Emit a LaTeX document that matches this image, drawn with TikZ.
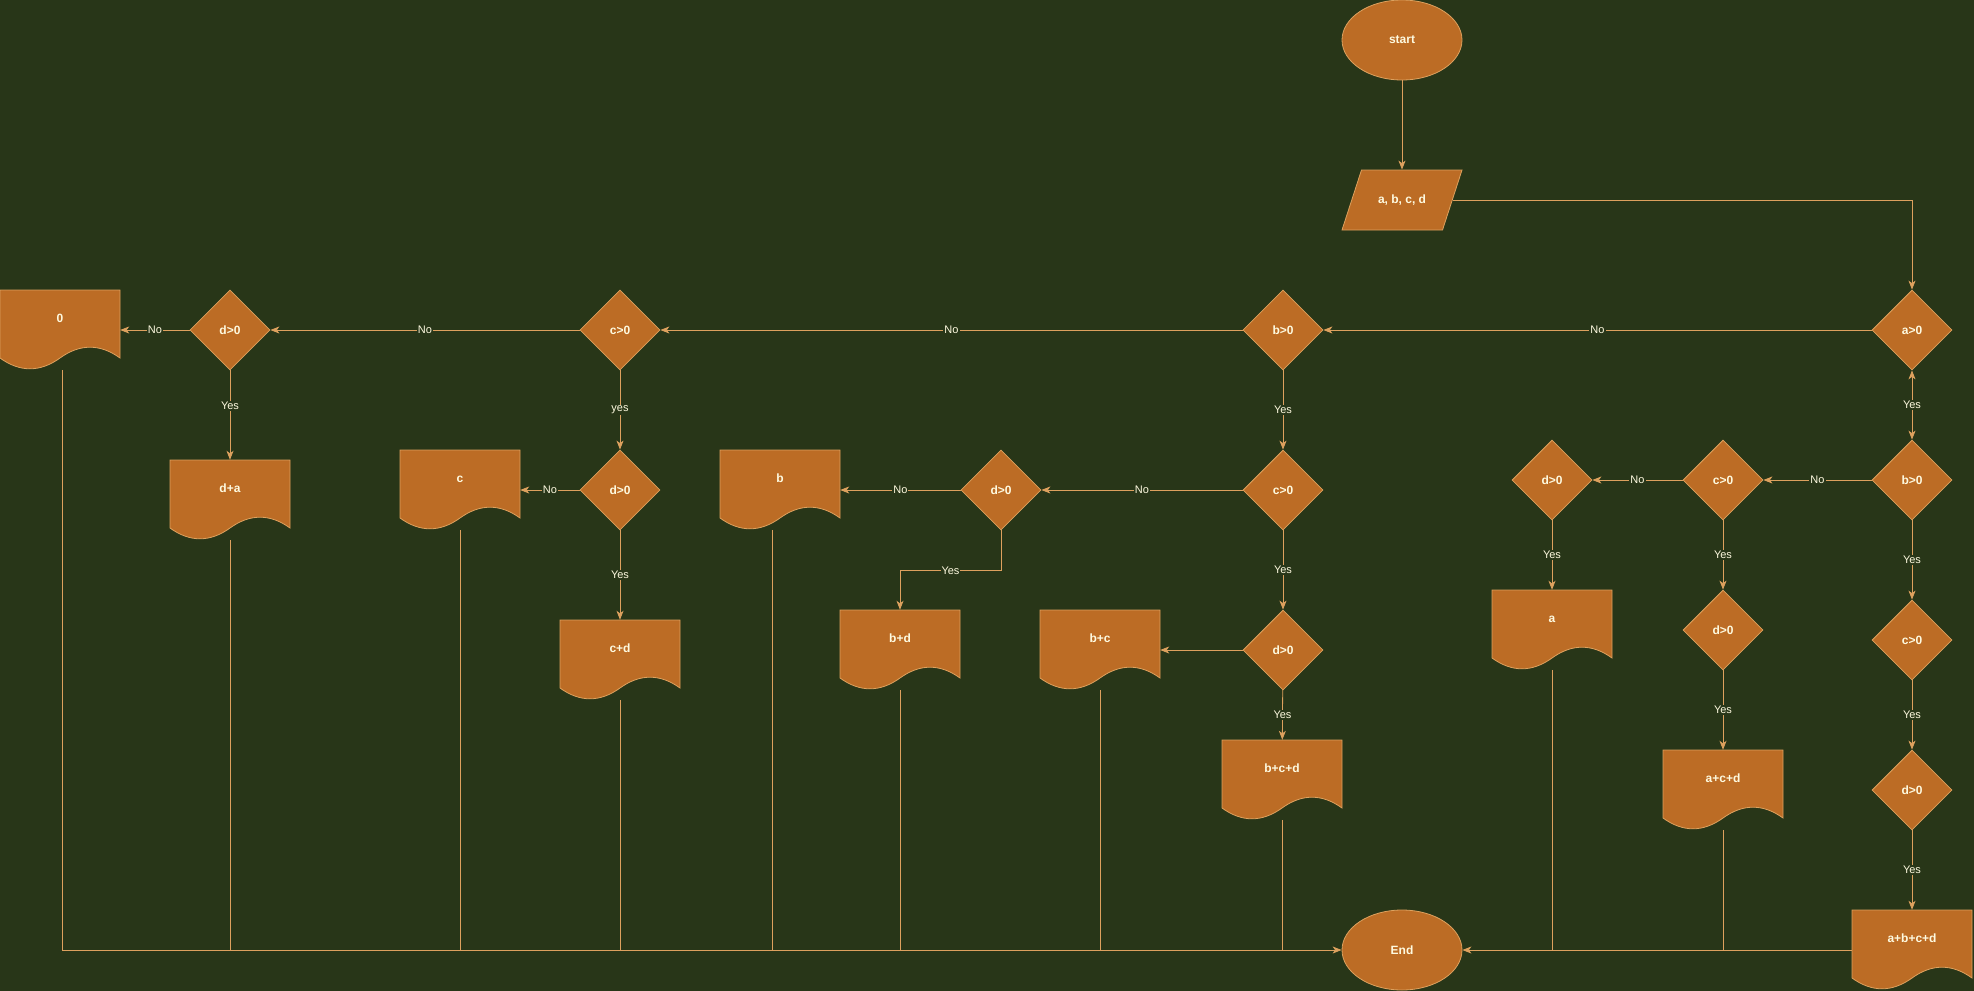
\documentclass[tikz,border=0pt]{standalone}
\usepackage{fontspec}
\setmainfont{Liberation Sans}
\usetikzlibrary{shapes.geometric,arrows.meta}

\definecolor{bgcol}{HTML}{283618}
\definecolor{boxfill}{HTML}{BC6C25}
\definecolor{boxline}{HTML}{DDA15E}
\definecolor{boxtext}{HTML}{FEFAE0}

\tikzset{
  >={Stealth[length=9pt,width=7pt,inset=2.5pt]},
  base/.style={draw=boxline, fill=boxfill, text=boxtext, line width=0.8pt, inner sep=0pt,
    font=\fontsize{12}{14}\selectfont\bfseries},
  terminal/.style={base, ellipse, minimum width=120pt, minimum height=80pt},
  iobox/.style={base, trapezium, trapezium left angle=72, trapezium right angle=108,
    trapezium stretches body, minimum width=120pt, text height=9pt, text depth=3pt,
    inner ysep=24pt},
  decision/.style={base, diamond, aspect=1, minimum width=80pt, minimum height=80pt},
  docshape/.style={draw=boxline, fill=boxfill, line width=0.8pt},
  docbox/.style={rectangle, inner sep=0pt, minimum width=120pt, minimum height=80pt,
    text=boxtext, font=\fontsize{12}{14}\selectfont\bfseries,
    text height=0pt, text depth=16pt},
  wire/.style={draw=boxline, line width=0.8pt},
  flow/.style={wire, ->},
  lbl/.style={fill=bgcol, text=boxtext, inner sep=1pt, font=\fontsize{11}{13}\selectfont},
}

\begin{document}
\begin{tikzpicture}[x=1pt, y=-1pt]
\path[use as bounding box, fill=bgcol] (0,0) rectangle (1974,991);

\node[terminal] (start) at (1402,40) {start};
\node[iobox] (input) at (1402,200) {a, b, c, d};
\node[terminal] (end) at (1402,950) {End};

% tests
\foreach \n/\x/\y/\t in {ifa/1912/330/a>0, ifb/1283/330/b>0, ifc/620/330/c>0, ifd/230/330/d>0,
    ifcd/620/490/d>0, ifbc/1283/490/c>0, ifbd/1001/490/d>0, ifbcd/1283/650/d>0,
    ifab/1912/480/b>0, ifac/1723/480/c>0, ifad/1552/480/d>0, ifacd/1723/630/d>0,
    ifabc/1912/640/c>0, ifabcd/1912/790/d>0}
  \node[decision] (\n) at (\x,\y) {\t};

% outputs
\foreach \n/\x/\y/\t in {outz/60/330/0, outda/230/500/d+a, outc/460/490/c, outcd/620/660/c+d,
    outb/780/490/b, outbd/900/650/b+d, outbc/1100/650/b+c, outbcd/1282/780/b+c+d,
    outa/1552/630/a, outacd/1723/790/a+c+d, outabcd/1912/950/a+b+c+d}{
  \path[docshape, shift={(\x,\y)}] (-60,-40) -- (60,-40) -- (60,28)
    .. controls (40,13.6) and (20,13.6) .. (0,28)
    .. controls (-20,42.4) and (-40,42.4) .. (-60,28) -- cycle;
  \node[docbox] (\n) at (\x,\y) {\t};
}

\draw[flow] (start) -- (input);
\draw[flow] (input.east) -| (ifa.north);

% a>0 no
\draw[flow] (ifa) -- node[lbl] {No} (ifb);
\draw[flow] (ifb) -- node[lbl] {No} (ifc);
\draw[flow] (ifc) -- node[lbl] {No} (ifd);
\draw[flow] (ifd) -- node[lbl] {No} (outz);
\draw[flow] (ifd) -- node[lbl, pos=0.4] {Yes} (outda);
\draw[flow] (ifc) -- node[lbl] {yes} (ifcd);
\draw[flow] (ifcd) -- node[lbl] {No} (outc);
\draw[flow] (ifcd) -- node[lbl] {Yes} (outcd);
\draw[flow] (ifb) -- node[lbl] {Yes} (ifbc);
\draw[flow] (ifbc) -- node[lbl] {No} (ifbd);
\draw[flow] (ifbd) -- node[lbl] {No} (outb);
\draw[flow] (ifbd.south) -- ++(0,40) -| node[lbl, pos=0.25] {Yes} (outbd.north);
\draw[flow] (ifbc) -- node[lbl] {Yes} (ifbcd);
\draw[flow] (ifbcd) -- (outbc);
\draw[flow] (ifbcd) -- node[lbl] {Yes} (outbcd);

% a>0 yes
\draw[flow, <->] (ifa) -- node[lbl] {Yes} (ifab);
\draw[flow] (ifab) -- node[lbl] {No} (ifac);
\draw[flow] (ifac) -- node[lbl] {No} (ifad);
\draw[flow] (ifad) -- node[lbl] {Yes} (outa);
\draw[flow] (ifac) -- node[lbl] {Yes} (ifacd);
\draw[flow] (ifacd) -- node[lbl] {Yes} (outacd);
\draw[flow] (ifab) -- node[lbl] {Yes} (ifabc);
\draw[flow] (ifabc) -- node[lbl] {Yes} (ifabcd);
\draw[flow] (ifabcd) -- node[lbl] {Yes} (outabcd);

% to end
\draw[flow] ([xshift=2pt]outz.south) |- (end.west);
\foreach \n in {outda, outc, outcd, outbd, outbc, outbcd, outa, outacd}
  \draw[wire] (\n.south) -- (\n.south |- end.west);
\draw[wire] ([xshift=-8pt]outb.south) -- ([xshift=-8pt]outb.south |- end.west);
\draw[flow] (outabcd.west) -- (end.east);
\end{tikzpicture}
\end{document}
